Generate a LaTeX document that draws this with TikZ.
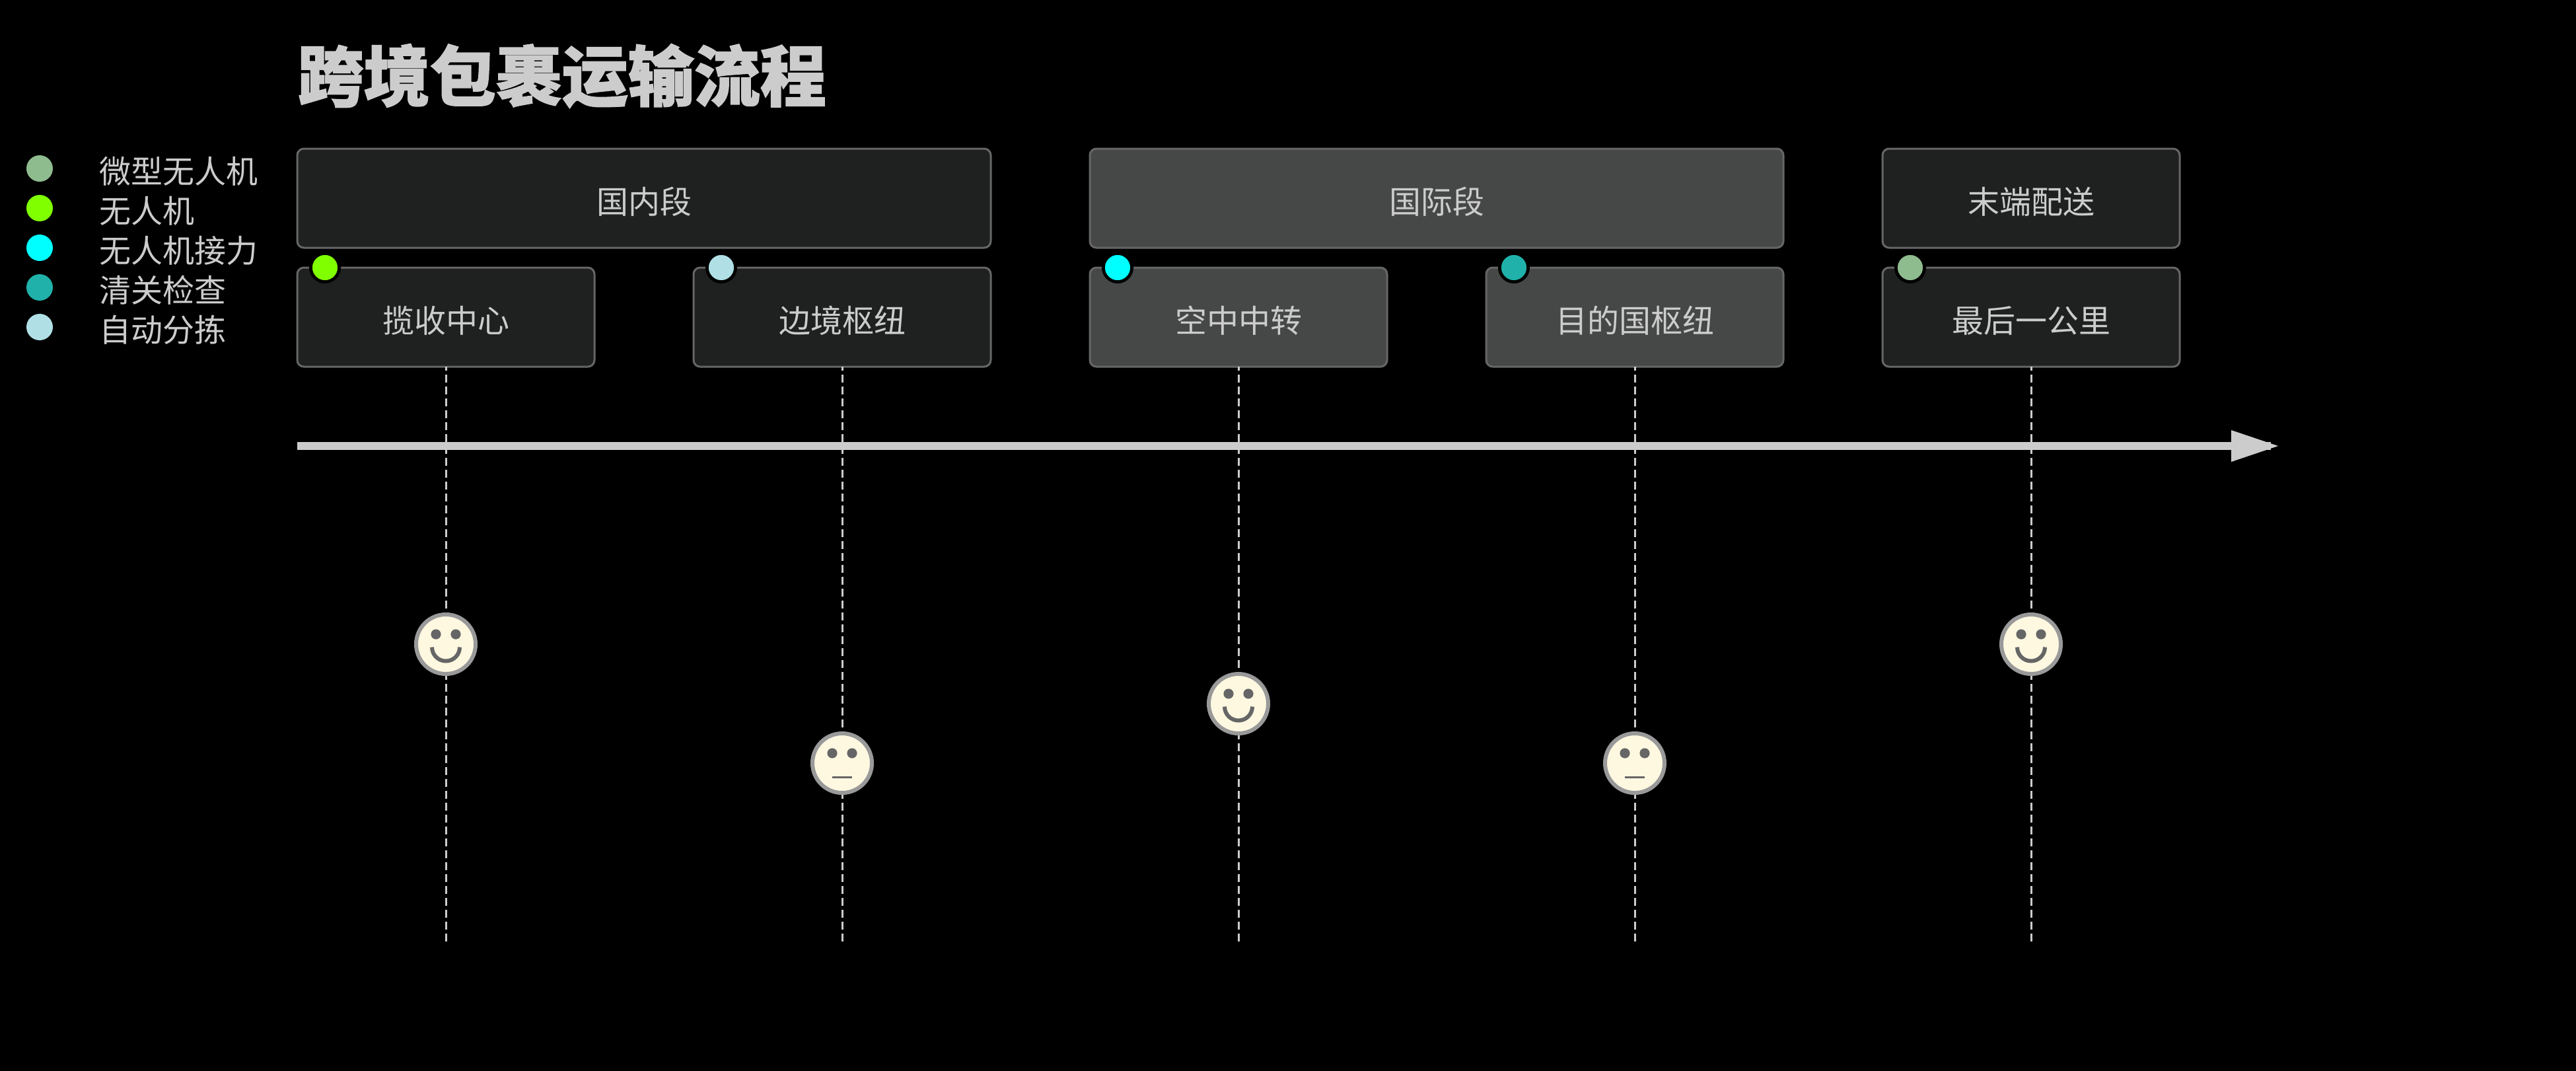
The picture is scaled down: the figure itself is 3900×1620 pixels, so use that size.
\documentclass[tikz,border=0pt]{standalone}
\usepackage{fontspec}
\setmainfont{Noto Sans CJK SC}[BoldFeatures={FakeBold=1.5}]
\usetikzlibrary{arrows.meta}
\definecolor{txt}{HTML}{CCCCCC}
\definecolor{darkbox}{HTML}{1F2121}
\definecolor{midbox}{HTML}{464847}
\definecolor{boxline}{HTML}{666666}
\definecolor{facefill}{HTML}{FFF8E1}
\definecolor{faceline}{HTML}{999999}
\definecolor{feature}{HTML}{666666}
\definecolor{cA}{HTML}{8FBC8F}
\definecolor{cB}{HTML}{7FFF00}
\definecolor{cC}{HTML}{00FFFF}
\definecolor{cD}{HTML}{20B2AA}
\definecolor{cE}{HTML}{B0E0E6}
\tikzset{
  x=0.25pt,y=-0.25pt,
  boxbase/.style={draw=boxline,line width=0.75pt,rounded corners=2.5pt,inner sep=0pt,outer sep=0pt,text=txt,font=\fontsize{12}{14}\selectfont,minimum height=37.5pt,text height=11.5pt,text depth=0pt},
  darkcell/.style={boxbase,fill=darkbox},
  midcell/.style={boxbase,fill=midbox},
  wideA/.style={minimum width=262.5pt},
  wideB/.style={minimum width=112.5pt},
  badge/.style={circle,draw=black,line width=1.2pt,minimum size=10.8pt,inner sep=0pt},
  legdot/.style={circle,minimum size=10pt,inner sep=0pt},
  legtext/.style={anchor=west,text=txt,font=\fontsize{12}{14}\selectfont,inner sep=0pt},
  lifeline/.style={draw=txt,line width=0.75pt,dash pattern=on 3pt off 1.5pt,dash phase=1.5pt},
  facecirc/.style={circle,draw=faceline,fill=facefill,line width=1.5pt,minimum size=22.5pt,inner sep=0pt},
  eye/.style={fill=feature},
  smile/.style={draw=feature,line width=1.5pt},
  flat/.style={draw=feature,line width=0.75pt},
  axisline/.style={draw=txt,line width=3pt},
}
\begin{document}
\begin{tikzpicture}
\useasboundingbox (0,0) rectangle (3900,1620);
\fill[black] (-20,-20) rectangle (3920,1640);
% title
\node[anchor=west,inner sep=0pt,text=txt,font=\fontsize{25}{30}\bfseries\selectfont] (title) at (450,115) {跨境包裹运输流程};
% lifelines ends
\foreach \n/\x in {a/675,b/1275,c/1875,d/2475,e/3075}{
  \coordinate (end\n) at (\x,1425);
}
% section headers
\node[darkcell,wideA] (secA) at (975,300) {国内段};
\node[midcell,wideA] (secB) at (2175,300) {国际段};
\node[darkcell,wideB] (secC) at (3075,300) {末端配送};
% steps
\node[darkcell,wideB] (stepa) at (675,480) {揽收中心};
\node[darkcell,wideB] (stepb) at (1275,480) {边境枢纽};
\node[midcell,wideB] (stepc) at (1875,480) {空中中转};
\node[midcell,wideB] (stepd) at (2475,480) {目的国枢纽};
\node[darkcell,wideB] (stepe) at (3075,480) {最后一公里};
% lifelines
\foreach \n in {a,b,c,d,e}{
  \draw[lifeline] (step\n.south) -- (end\n);
}
% axis
\coordinate (axstart) at (450,675);
\coordinate (axstub) at (3438,675);
\coordinate (axtip) at (3449,675);
\draw[axisline,-{Triangle[length=17.75pt,width=12pt,line width=0pt]}] (axstart) -- (axtip);
\draw[axisline] (3400,675) -- (axstub);
% faces
\foreach \n/\x/\y in {a/675/975,c/1875/1065,e/3075/975}{
  \node[facecirc] (face\n) at (\x,\y) {};
  \fill[eye] (\x-15,\y-15) circle (1.9pt);
  \fill[eye] (\x+15,\y-15) circle (1.9pt);
  \draw[smile] (\x-21,\y+4.5) arc[start angle=180,end angle=360,radius=5.25pt,y radius=5.25pt];
}
\foreach \n/\x/\y in {b/1275/1155,d/2475/1155}{
  \node[facecirc] (face\n) at (\x,\y) {};
  \fill[eye] (\x-15,\y-15) circle (1.9pt);
  \fill[eye] (\x+15,\y-15) circle (1.9pt);
  \draw[flat] (\x-15,\y+21) -- (\x+15,\y+21);
}
% badges
\node[badge,fill=cB] (ba) at (492,405) {};
\node[badge,fill=cE] (bb) at (1092,405) {};
\node[badge,fill=cC] (bc) at (1692,405) {};
\node[badge,fill=cD] (bd) at (2292,405) {};
\node[badge,fill=cA] (be) at (2892,405) {};
% legend
\foreach \n/\y/\c/\t in {1/255/cA/微型无人机,2/315/cB/无人机,3/375/cC/无人机接力,4/435/cD/清关检查,5/495/cE/自动分拣}{
  \node[legdot,fill=\c] (dot\n) at (60,\y) {};
  \node[legtext] (leg\n) at (150,\y+4) {\t};
}
\end{tikzpicture}
\end{document}
